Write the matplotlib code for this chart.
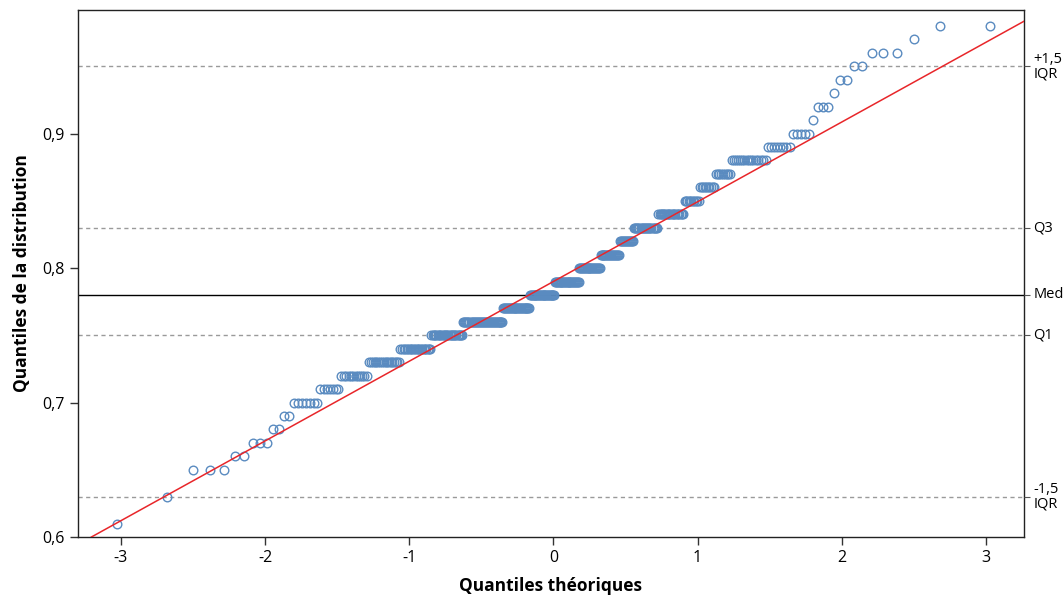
from statistics import NormalDist
from matplotlib import pyplot as plt
from matplotlib.ticker import FuncFormatter
import numpy as np

plt.rcParams['font.family'] = ['Open Sans', 'DejaVu Sans']
plt.rcParams['axes.unicode_minus'] = False

# observed values (0.01 steps) and how many times each occurs
levels = [0.61, 0.63, 0.65, 0.66, 0.67, 0.68, 0.69, 0.70, 0.71, 0.72,
          0.73, 0.74, 0.75, 0.76, 0.77, 0.78, 0.79, 0.80, 0.81, 0.82,
          0.83, 0.84, 0.85, 0.86, 0.87, 0.88, 0.89, 0.90, 0.91, 0.92,
          0.93, 0.94, 0.95, 0.96, 0.97, 0.98]
counts = [1, 1, 3, 2, 3, 2, 2, 7, 7, 12,
          18, 22, 27, 40, 29, 28, 27, 23, 20, 14,
          22, 21, 11, 10, 9, 16, 8, 5, 1, 3,
          1, 2, 2, 3, 1, 2]

x_ticks = [-3, -2, -1, 0, 1, 2, 3]
y_ticks = [0.6, 0.7, 0.8, 0.9]

sample = np.sort(np.repeat(levels, counts))
n = len(sample)
nd = NormalDist()
theo = np.array([nd.inv_cdf((i - 0.5) / n) for i in range(1, n + 1)])

q1, med, q3 = np.percentile(sample, [25, 50, 75])
iqr = q3 - q1
lo_fence, hi_fence = q1 - 1.5 * iqr, q3 + 1.5 * iqr
slope = iqr / (nd.inv_cdf(0.75) - nd.inv_cdf(0.25))
intercept = q1 - slope * nd.inv_cdf(0.25)

fig = plt.figure(figsize=(10.64, 5.99), dpi=100)
ax = fig.add_axes([0.0733, 0.1035, 0.889, 0.88])

for y in (lo_fence, q1, q3, hi_fence):
    ax.axhline(y, color='#9a9a9a', lw=1, ls=(0, (3, 2.5)), zorder=1)
ax.axhline(med, color='black', lw=1, zorder=1)

ax.plot(theo, sample, 'o', ms=6.2, mfc='none', mec='#5a8bc0', mew=1, zorder=2)
ax.axline((0, intercept), slope=slope, color='#e8262a', lw=1.1, zorder=3)

ax.set_xlim(-3.297, 3.263)
ax.set_ylim(0.6, 0.992)
ax.set_xticks(x_ticks)
ax.set_yticks(y_ticks)
ax.yaxis.set_major_formatter(FuncFormatter(lambda v, p: f'{v:.1f}'.replace('.', ',')))
ax.tick_params(labelsize=11.5, length=6, width=1, color='#333333')
for s in ax.spines.values():
    s.set_linewidth(1)
    s.set_color('#222222')

ax.set_xlabel('Quantiles théoriques', fontsize=12.5, fontweight='bold', labelpad=8)
ax.set_ylabel('Quantiles de la distribution', fontsize=12.5, fontweight='bold', labelpad=8)

# right side markers for the box-plot statistics
ax2 = ax.twinx()
ax2.set_ylim(ax.get_ylim())
ax2.set_yticks([hi_fence, q3, med, q1, lo_fence])
ax2.set_yticklabels(['+1,5\nIQR', 'Q3', 'Med', 'Q1', '-1,5\nIQR'],
                    fontsize=10.5, linespacing=0.95)
ax2.tick_params(length=4, width=0.8, pad=3, color='#555555')
for t in ax2.get_yticklabels():
    t.set_verticalalignment('center')
for s in ax2.spines.values():
    s.set_visible(False)

fig.savefig('out.png', dpi=100)
